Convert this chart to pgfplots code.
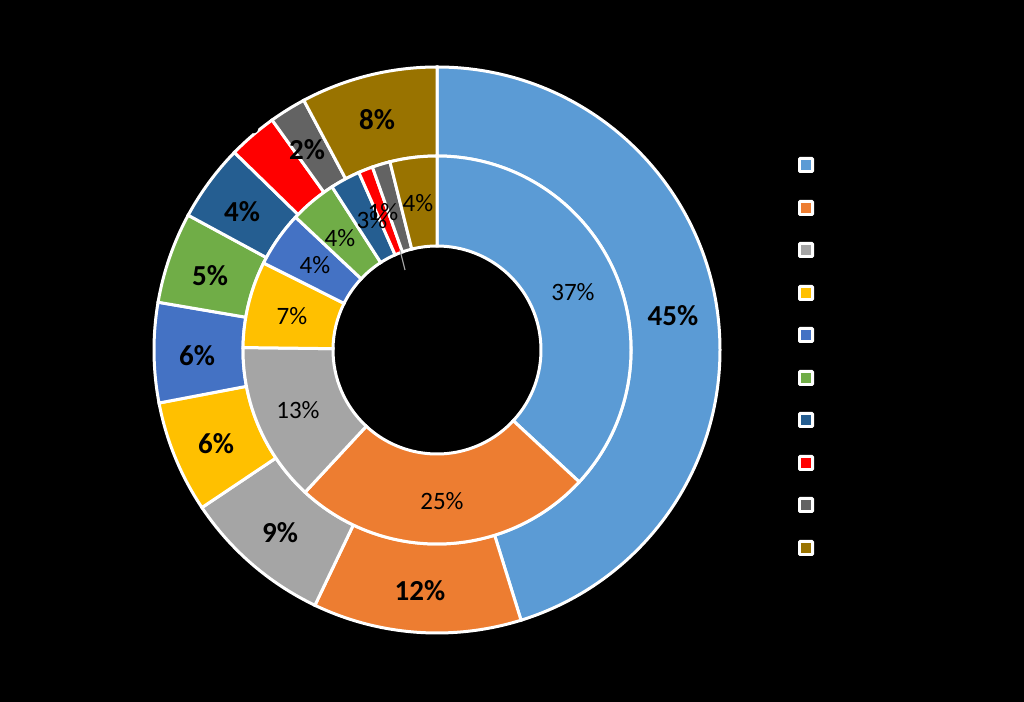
\documentclass[border=0pt]{standalone}
\usepackage{fontspec}
\setmainfont{Carlito}
\usepackage{pgfplots}
\usepackage{pgfplotstable}
\pgfplotsset{compat=1.18}
\usetikzlibrary{calc}

\definecolor{c1}{HTML}{5B9BD5}
\definecolor{c2}{HTML}{ED7D31}
\definecolor{c3}{HTML}{A5A5A5}
\definecolor{c4}{HTML}{FFC000}
\definecolor{c5}{HTML}{4472C4}
\definecolor{c6}{HTML}{70AD47}
\definecolor{c7}{HTML}{255E91}
\definecolor{c8}{HTML}{FF0000}
\definecolor{c9}{HTML}{636363}
\definecolor{c10}{HTML}{997300}

% outer ring: value, colour, label, label position (px)
\pgfplotstableread{
val col lbl lx ly
45.2 c1 45 673 316
11.9 c2 12 420 591
8.5 c3 9 280 533
6.4 c4 6 216 444
5.7 c5 6 197 356
5.2 c6 5 210 276
4.4 c7 4 242 212
2.8 c8 3 241 124
2.1 c9 2 307 150
7.8 c10 8 377 120
}\outerdata

% inner ring
\pgfplotstableread{
val col lbl lx ly
36.9 c1 37 573 292
25.0 c2 25 442 501
13.3 c3 13 298 410
7.2 c4 7 292 316
4.6 c5 4 315 265
3.9 c6 4 340 238
2.5 c7 3 372 220
1.2 c8 1 383 212
1.5 c9 1 383 212
3.9 c10 4 418 203
}\innerdata

% legend squares (px)
\pgfplotstableread{
y col
165 c1
208 c2
250 c3
293 c4
335 c5
378 c6
420 c7
463 c8
505 c9
548 c10
}\legenddata

\newcommand{\drawring}[5]{% table, Rin(pt), Rout(pt), font, label code for row 8
  \def\cum{0}%
  \pgfplotsforeachungrouped \i in {0,...,9}{%
    \pgfplotstablegetelem{\i}{val}\of{#1}\let\v\pgfplotsretval
    \pgfplotstablegetelem{\i}{col}\of{#1}\let\c\pgfplotsretval
    \pgfmathsetmacro\sa{90-3.6*\cum}%
    \pgfmathsetmacro\ea{90-3.6*(\cum+\v)}%
    \pgfmathsetmacro\cum{\cum+\v}%
    \filldraw[fill=\c, draw=white, line width=1.5pt]
      ($(C)+(\sa:#3)$) arc[start angle=\sa, end angle=\ea, radius=#3]
      -- ($(C)+(\ea:#2)$) arc[start angle=\ea, end angle=\sa, radius=#2] -- cycle;
  }%
  \pgfplotsforeachungrouped \i in {0,...,9}{%
    \pgfplotstablegetelem{\i}{lbl}\of{#1}\let\l\pgfplotsretval
    \pgfplotstablegetelem{\i}{lx}\of{#1}\let\lx\pgfplotsretval
    \pgfplotstablegetelem{\i}{ly}\of{#1}\let\ly\pgfplotsretval
    \pgfmathsetmacro\yy{702-\ly}%
    \ifnum\i=8 #5\else
    \node[font=#4, text=black, inner sep=0pt] at (axis cs:\lx,\yy) {\l\%};
    \fi
  }%
}

\begin{document}
\begin{tikzpicture}
\begin{axis}[hide axis, x=0.5pt, y=0.5pt, xmin=0, xmax=1024, ymin=0, ymax=702,
  scale only axis, clip=false]
\addplot[draw=none, forget plot] coordinates {(0,0) (1024,702)};
\pgfplotsextra{%
  \fill[black] (axis cs:0,0) rectangle (axis cs:1024,702);
  \coordinate (C) at (axis cs:437,352);
  \drawring{\outerdata}{97pt}{141.5pt}{\bfseries\fontsize{14.5}{16}\selectfont}{\node[font=\bfseries\fontsize{14.5}{16}\selectfont, inner sep=0pt] at (axis cs:\lx,\yy) {\l\%};}
  \drawring{\innerdata}{52pt}{97pt}{\fontsize{12.5}{14}\selectfont}{}
  \draw[gray!70, line width=0.6pt] (axis cs:400,452) -- (axis cs:405,432);
  \pgfplotsforeachungrouped \i in {0,...,9}{%
    \pgfplotstablegetelem{\i}{y}\of{\legenddata}\let\ly\pgfplotsretval
    \pgfplotstablegetelem{\i}{col}\of{\legenddata}\let\c\pgfplotsretval
    \pgfmathsetmacro\yy{702-\ly}%
    \fill[white, rounded corners=0.8pt] ($(axis cs:806,\yy)+(-4pt,-4pt)$) rectangle ($(axis cs:806,\yy)+(4pt,4pt)$);
    \fill[\c] ($(axis cs:806,\yy)+(-2.7pt,-2.7pt)$) rectangle ($(axis cs:806,\yy)+(2.7pt,2.7pt)$);
  }%
}
\end{axis}
\end{tikzpicture}
\end{document}
